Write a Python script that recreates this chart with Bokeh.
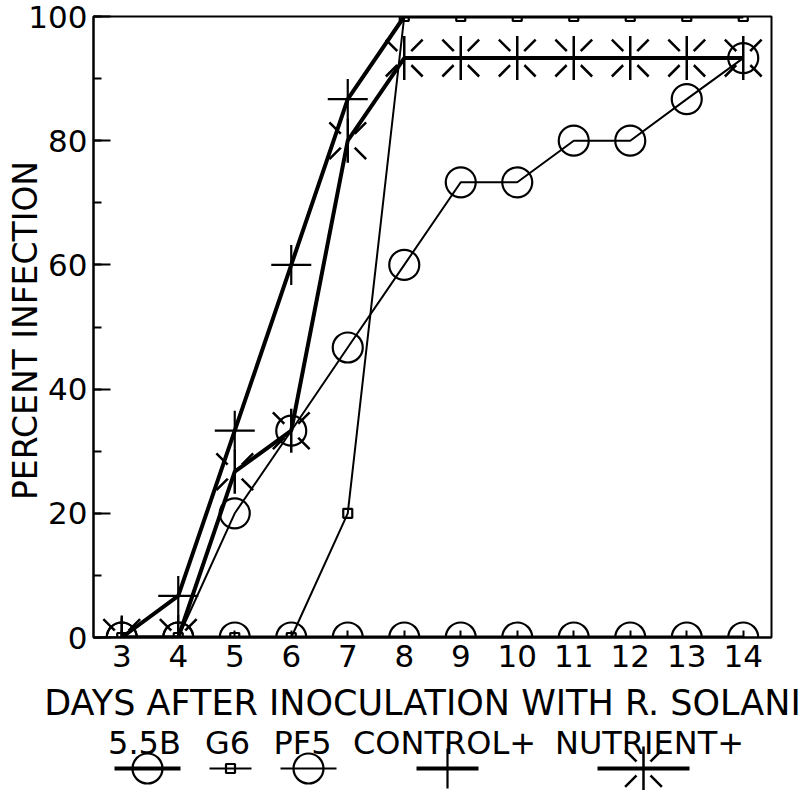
import math
from bokeh.plotting import figure
from bokeh.models import Range1d, FixedTicker, SingleIntervalTicker, Label, LinearAxis, BoxAnnotation
from bokeh.embed import file_html
from bokeh.resources import INLINE

# ---------------- data ----------------
days = [3, 4, 5, 6, 7, 8, 9, 10, 11, 12, 13, 14]
s_55b = [0, 0, 0, 0, 0, 0, 0, 0, 0, 0, 0, 0]
s_g6 = [0, 0, 0, 0, 20, 100, 100, 100, 100, 100, 100, 100]
s_pf5 = [0, 0, 20, 33.3, 46.7, 60, 73.3, 73.3, 80, 80, 86.7, 93.3]
s_control = [0, 6.7, 33.3, 60, 86.7, 100, 100, 100, 100, 100, 100, 100]
s_nutrient = [0, 0, 26.7, 33.3, 80, 93.3, 93.3, 93.3, 93.3, 93.3, 93.3, 93.3]
series_names = ["5.5B", "G6", "PF5", "CONTROL+", "NUTRIENT+"]
x_ticks = days
y_tick_interval = 20
x_label = "DAYS AFTER INOCULATION WITH R. SOLANI"
y_label = "PERCENT INFECTION"

series_values = dict(zip(series_names, [s_55b, s_g6, s_pf5, s_control, s_nutrient]))

# ---------------- layout constants (page pixels) ----------------
W, H = 800, 790
FRAME_L, FRAME_R, FRAME_T, FRAME_B = 93, 771, 16, 637
X0, X1 = 2.5, 14.5
Y0, Y1 = 0, 100
PXX = (FRAME_R - FRAME_L) / (X1 - X0)
PXY = (FRAME_B - FRAME_T) / (Y1 - Y0)


def px2x(px):
    return X0 + (px - FRAME_L) / PXX


def py2y(py):
    return Y0 + (FRAME_B - py) / PXY


FONT = "DejaVu Sans"
styles = {
    "5.5B": dict(lw=4, marker="circle", size=30, hide_at_top=False),
    "G6": dict(lw=2, marker="square", size=9, hide_at_top=False),
    "PF5": dict(lw=2, marker="circle", size=30, hide_at_top=False),
    "CONTROL+": dict(lw=4, marker="cross", size=40, hide_at_top=True),
    "NUTRIENT+": dict(lw=4, marker="sun", size=44, hide_at_top=False),
}


def draw_sun(fig, xs, ys, level):
    # diagonal rays with an open centre, plus a continuous vertical stroke
    fig.scatter(xs, ys, marker="x", size=52, line_color="black", line_width=2.5, fill_color=None, level=level)
    fig.scatter(xs, ys, marker="circle", size=20, line_color=None, fill_color="white", level=level)
    fig.scatter(xs, ys, marker="dash", angle=math.pi / 2, size=44, line_color="black", line_width=2.5,
                fill_color=None, level=level)


def draw_lines(fig, segs, level):
    for name, xs, ys in segs:
        fig.line(xs, ys, line_color="black", line_width=styles[name]["lw"], level=level)


def draw_markers(fig, pts, level):
    for name, xs, ys in pts:
        st = styles[name]
        if st["marker"] == "sun":
            continue
        if st["hide_at_top"]:
            keep = [i for i, yv in enumerate(ys) if yv < Y1]
            xs = [xs[i] for i in keep]
            ys = [ys[i] for i in keep]
        fig.scatter(xs, ys, marker=st["marker"], size=st["size"], line_color="black",
                    line_width=2.2, fill_color=None, level=level)


# ---------------- single figure whose frame is the whole canvas ----------------
p = figure(width=W, height=H,
           x_range=Range1d(px2x(0), px2x(W)), y_range=Range1d(py2y(H), py2y(0)),
           output_backend="svg", toolbar_location=None,
           x_axis_location=None, y_axis_location=None,
           min_border_left=0, min_border_right=0, min_border_top=0, min_border_bottom=0)
p.grid.visible = False
p.outline_line_color = None
p.background_fill_color = "white"
p.border_fill_color = "white"

xa = LinearAxis(fixed_location=Y0, bounds=(X0, X1), ticker=FixedTicker(ticks=x_ticks, minor_ticks=[]))
ya = LinearAxis(fixed_location=X0, bounds=(Y0, Y1),
                ticker=SingleIntervalTicker(interval=y_tick_interval, num_minor_ticks=2))
for ax in (xa, ya):
    ax.axis_line_color = "black"
    ax.axis_line_width = 2
    ax.major_tick_line_color = "black"
    ax.major_tick_line_width = 2
    ax.minor_tick_line_color = "black"
    ax.minor_tick_line_width = 2
    ax.major_tick_out = 0
    ax.minor_tick_out = 0
    ax.major_label_text_font = FONT
    ax.major_label_text_color = "black"
    ax.major_label_text_font_size = "31px"
ya.major_tick_in = 17
ya.minor_tick_in = 8
ya.major_label_standoff = 6
xa.major_tick_in = 7
xa.major_label_standoff = 7
p.add_layout(xa, "below")
p.add_layout(ya, "left")

# data marks (drawn at the lowest level, then masked outside the plotting area)
pts = [(n, days, series_values[n]) for n in series_names]
draw_sun(p, days, series_values["NUTRIENT+"], "image")
draw_lines(p, pts, "image")
draw_markers(p, pts, "image")

# white masks emulate clipping to the plot frame
for kw in (dict(top=Y0), dict(bottom=Y1), dict(right=X0), dict(left=X1)):
    p.add_layout(BoxAnnotation(fill_color="white", fill_alpha=1, line_color=None,
                               level="underlay", **kw))
# frame border
p.add_layout(BoxAnnotation(left=X0, right=X1, bottom=Y0, top=Y1, fill_alpha=0,
                           line_color="black", line_width=2, line_alpha=1))

# axis titles
p.add_layout(Label(x=px2x(25), y=py2y(330), text=y_label, angle=math.pi / 2,
                   text_align="center", text_baseline="alphabetic",
                   text_font=FONT, text_font_size="33px", text_color="black"))
p.add_layout(Label(x=px2x(422), y=py2y(702), text=x_label, text_font=FONT, text_font_size="35px",
                   text_align="center", text_baseline="alphabetic", text_color="black"))

# legend: names above, line+marker samples below
word_px = [144, 227, 302, 444, 649]
marker_px = [147, 230, 308, 447, 643]
half_len = [33, 21, 28, 31, 46]
LEG_TEXT_PY = 742
LEG_MARK_PY = 768
for n, wx in zip(series_names, word_px):
    p.add_layout(Label(x=px2x(wx), y=py2y(LEG_TEXT_PY), text=n, text_font=FONT, text_font_size="32px",
                       text_align="center", text_baseline="alphabetic", text_color="black"))

ly = py2y(LEG_MARK_PY)
leg_segs = []
leg_pts = []
for n, cx, h in zip(series_names, marker_px, half_len):
    leg_segs.append((n, [px2x(cx - h), px2x(cx + h)], [ly, ly]))
    leg_pts.append((n, [px2x(cx)], [ly]))
ni = series_names.index("NUTRIENT+")
draw_sun(p, [px2x(marker_px[ni])], [ly], "glyph")
draw_lines(p, leg_segs, "glyph")
draw_markers(p, leg_pts, "glyph")

open("out.html", "w").write(file_html(p, INLINE))
